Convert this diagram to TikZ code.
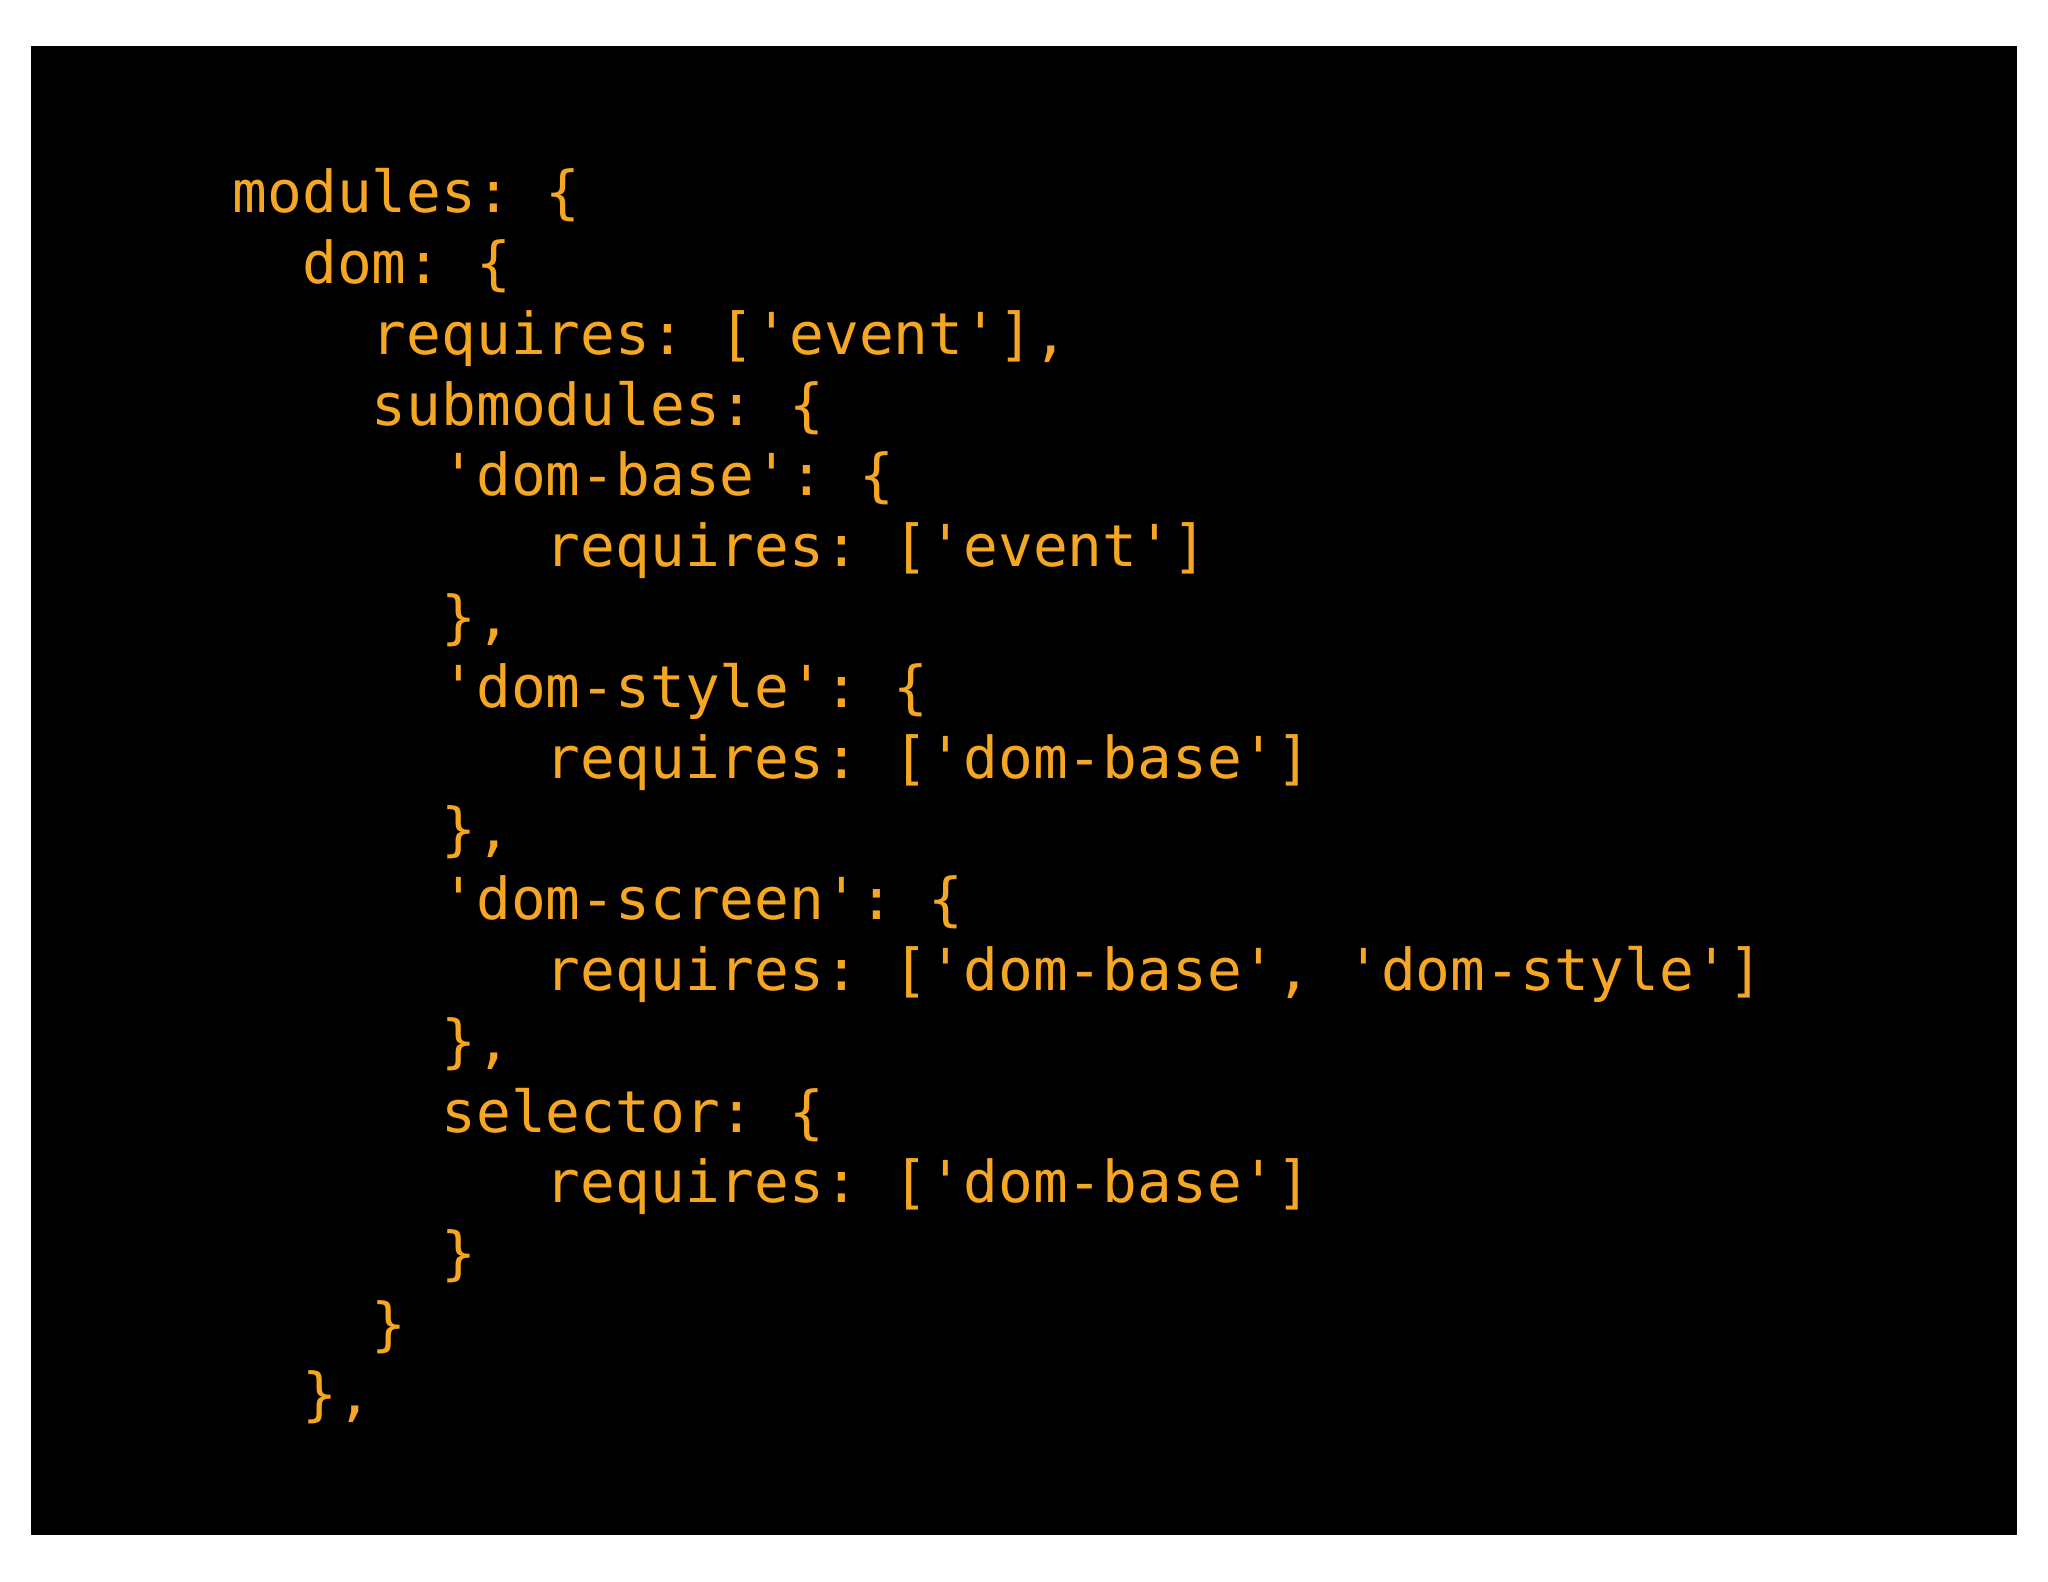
\documentclass[tikz,border=0pt]{standalone}
\usepackage{fontspec}
\setmonofont{DejaVu Sans Mono}
\definecolor{codeor}{HTML}{F5A623}
\begin{document}
\begin{tikzpicture}[x=1pt,y=1pt,
  codeline/.style={anchor=base west,inner sep=0pt,text=codeor,font=\ttfamily\fontsize{57.8}{70}\selectfont}]
\useasboundingbox (0,0) rectangle (2048,1582);
\fill[white] (0,0) rectangle (2048,1582);
\fill[black] (31,47) rectangle (2017,1536);
\def\xo{232.5}\def\cw{34.8}\def\yo{1369}\def\ls{70.7}
\foreach \k/\n/\t [count=\i] in {
 0/0/{modules: \{},
 1/2/{dom: \{},
 2/4/{requires: ['event'],},
 3/4/{submodules: \{},
 4/6/{'dom-base': \{},
 5/9/{requires: ['event']},
 6/6/{\},},
 7/6/{'dom-style': \{},
 8/9/{requires: ['dom-base']},
 9/6/{\},},
 10/6/{'dom-screen': \{},
 11/9/{requires: ['dom-base', 'dom-style']},
 12/6/{\},},
 13/6/{selector: \{},
 14/9/{requires: ['dom-base']},
 15/6/{\}},
 16/4/{\}},
 17/2/{\},}}
 \node[codeline] (l\i) at ({\xo+\n*\cw},{\yo-\k*\ls}) {\t};
\end{tikzpicture}
\end{document}
